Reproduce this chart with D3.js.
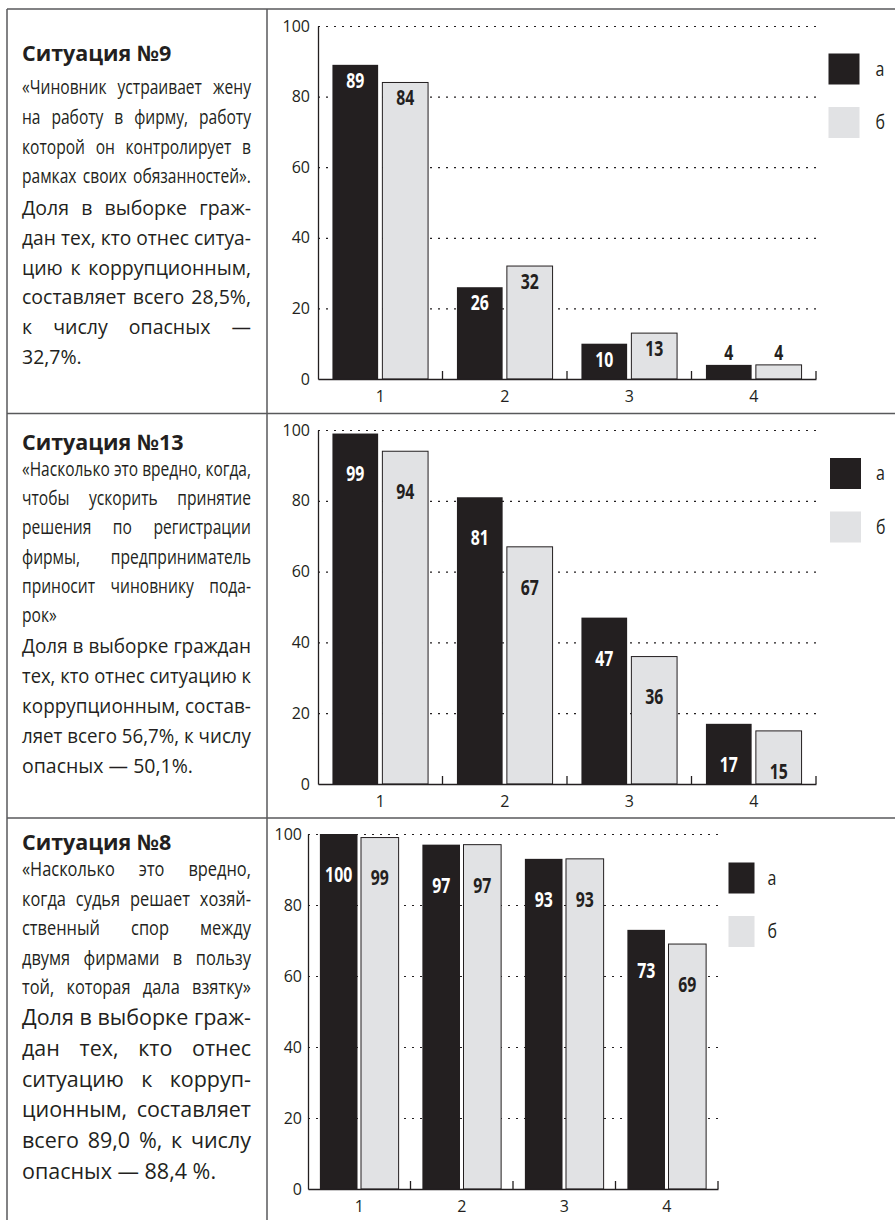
<!DOCTYPE html>
<html>
<head>
<meta charset="utf-8">
<script src="https://cdn.jsdelivr.net/npm/d3@7"></script>
<style>
  body { margin: 0; background: #fff; }
</style>
</head>
<body>
<svg id="page" width="895" height="1220"></svg>
<script>
// data
var categories = ["1", "2", "3", "4"];
var seriesNames = ["а", "б"];
var yTicks = [0, 20, 40, 60, 80, 100];

var sit9A = [89, 26, 10, 4];
var sit9B = [84, 32, 13, 4];
var sit13A = [99, 81, 47, 17];
var sit13B = [94, 67, 36, 15];
var sit8A = [100, 97, 93, 73];
var sit8B = [99, 97, 93, 69];

var titles = ["Ситуация №9", "Ситуация №13", "Ситуация №8"];

var quote9 = [
	"«Чиновник устраивает жену",
	"на работу в фирму, работу",
	"которой он контролирует в",
	"рамках своих обязанностей»."
];
var body9 = [
	"Доля в выборке граж-",
	"дан тех, кто отнес ситуа-",
	"цию к коррупционным,",
	"составляет всего 28,5%,",
	"к числу опасных —",
	"32,7%."
];
var quote13 = [
	"«Насколько это вредно, когда,",
	"чтобы ускорить принятие",
	"решения по регистрации",
	"фирмы, предприниматель",
	"приносит чиновнику пода-",
	"рок»"
];
var body13 = [
	"Доля в выборке граждан",
	"тех, кто отнес ситуацию к",
	"коррупционным, состав-",
	"ляет всего 56,7%, к числу",
	"опасных — 50,1%."
];
var quote8 = [
	"«Насколько это вредно,",
	"когда судья решает хозяй-",
	"ственный спор между",
	"двумя фирмами в пользу",
	"той, которая дала взятку»"
];
var body8 = [
	"Доля в выборке граж-",
	"дан тех, кто отнес",
	"ситуацию к корруп-",
	"ционным, составляет",
	"всего 89,0 %, к числу",
	"опасных — 88,4 %."
];

var INK = "#231f20";
var LIGHT = "#e1e2e4";
var RULE = "#58595b";
var SANS = '"Open Sans", "Noto Sans", sans-serif';
var NARROW = 0.8; // сжатие для "узкого" шрифта

var rows = [
	{top: 9, title: titles[0], quote: quote9, body: body9, a: sit9A, b: sit9B,
	 titleY: 61, quoteY: 94, quoteStep: 29.8, bodyY: 215, bodyStep: 29.8, quoteSize: 19.5, bodySize: 19.5,
	 x0: 318, x1: 816, y0: 379, y100: 26, tickPad: 8, labelOff: 15, legX: 828.5, legW: 31, legGap: 16},
	{top: 413.5, title: titles[1], quote: quote13, body: body13, a: sit13A, b: sit13B,
	 titleY: 450, quoteY: 476, quoteStep: 29.2, bodyY: 653, bodyStep: 30, quoteSize: 19.5, bodySize: 19.5,
	 x0: 318, x1: 816, y0: 784, y100: 430, tickPad: 8, labelOff: 40, legX: 830, legW: 31, legGap: 15},
	{top: 818, title: titles[2], quote: quote8, body: body8, a: sit8A, b: sit8B,
	 titleY: 850, quoteY: 876, quoteStep: 29.5, bodyY: 1025, bodyStep: 30.8, quoteSize: 20.5, bodySize: 21.5,
	 x0: 308, x1: 718, y0: 1189, y100: 834, tickPad: 6, labelOff: 40, legX: 728.5, legW: 26, legGap: 13}
];

var svg = d3.select("#page");
svg.append("rect").attr("width", 895).attr("height", 1220).attr("fill", "#fff");

// одна строка текста, с выравниванием по ширине
function drawLine(parent, str, xL, yB, width, size, weight, squeeze, justify){
	var g = parent.append("g");
	var words = str.split(" ");
	var texts = words.map(function(w){
		return g.append("text")
			.attr("font-family", SANS)
			.attr("font-size", size)
			.attr("font-weight", weight)
			.attr("fill", INK)
			.text(w);
	});
	var widths = texts.map(function(t){ return t.node().getComputedTextLength(); });
	var total = d3.sum(widths);
	var space = size * 0.26;
	var natural = total + space * (words.length - 1);
	var k = Math.min(squeeze, width / natural);
	if(justify == "auto"){
		justify = natural * k > width * 0.85;
	}
	var gap = space;
	if(words.length > 1 && justify){
		gap = (width / k - total) / (words.length - 1);
	}
	var cx = 0;
	texts.forEach(function(t, i){
		t.attr("x", cx);
		cx += widths[i] + gap;
	});
	g.attr("transform", "translate(" + xL + "," + yB + ") scale(" + k + ",1)");
}

function drawLeft(r){
	var g = svg.append("g");
	var xL = 22, w = 229;
	drawLine(g, r.title, xL, r.titleY, 400, 21.5, 700, 1, false);
	r.quote.forEach(function(line, i){
		var last = i == r.quote.length - 1;
		drawLine(g, line, xL, r.quoteY + i * r.quoteStep, w, r.quoteSize, 400, NARROW, last ? "auto" : true);
	});
	r.body.forEach(function(line, i){
		var last = i == r.body.length - 1;
		drawLine(g, line, xL, r.bodyY + i * r.bodyStep, w, r.bodySize, 400, 1, last ? "auto" : true);
	});
}

function drawChart(r){
	var x = d3.scaleBand().domain(categories).range([r.x0, r.x1]);
	var xs = d3.scaleBand().domain(seriesNames).range([0, x.bandwidth()])
		.paddingInner(0.085).paddingOuter(0.289);
	var y = d3.scaleLinear().domain([0, 100]).range([r.y0, r.y100]);
	var g = svg.append("g");

	// пунктирная сетка
	g.append("g")
		.attr("transform", "translate(" + r.x0 + ",0)")
		.call(d3.axisLeft(y).tickValues(yTicks.slice(1)).tickSize(-(r.x1 - r.x0)).tickFormat(""))
		.call(function(a){
			a.select(".domain").remove();
			a.selectAll("line")
				.attr("stroke", INK)
				.attr("stroke-width", 1.2)
				.attr("stroke-dasharray", "2,6");
		});

	var bars = [];
	categories.forEach(function(c, i){
		bars.push({cat: c, key: seriesNames[0], v: r.a[i]});
		bars.push({cat: c, key: seriesNames[1], v: r.b[i]});
	});

	g.selectAll("rect.bar").data(bars).enter().append("rect")
		.attr("class", "bar")
		.attr("x", function(d){ return x(d.cat) + xs(d.key); })
		.attr("y", function(d){ return y(d.v); })
		.attr("width", xs.bandwidth())
		.attr("height", function(d){ return y(0) - y(d.v); })
		.attr("fill", function(d){ return d.key == seriesNames[0] ? INK : LIGHT; })
		.attr("stroke", function(d){ return d.key == seriesNames[0] ? "none" : INK; })
		.attr("stroke-width", 1);

	// подписи значений (узкий жирный)
	g.selectAll("text.val").data(bars).enter().append("text")
		.attr("class", "val")
		.attr("transform", function(d){
			var h = y(0) - y(d.v);
			var cx = x(d.cat) + xs(d.key) + xs.bandwidth() / 2;
			var cy = h < 25 ? y(d.v) - 13 : y(d.v) + r.labelOff;
			return "translate(" + cx + "," + cy + ") scale(0.72,1)";
		})
		.attr("dy", "0.36em")
		.attr("text-anchor", "middle")
		.attr("font-family", SANS)
		.attr("font-weight", 700)
		.attr("font-size", 22)
		.attr("fill", function(d){
			var h = y(0) - y(d.v);
			return (d.key == seriesNames[0] && h >= 25) ? "#fff" : INK;
		})
		.text(function(d){ return d.v; });

	// оси
	g.append("g")
		.attr("transform", "translate(" + r.x0 + ",0)")
		.call(d3.axisLeft(y).tickValues(yTicks).tickSize(0).tickSizeOuter(0).tickPadding(r.tickPad))
		.attr("font-family", SANS)
		.attr("font-size", 16)
		.call(function(a){
			a.select(".domain").attr("stroke", INK).attr("stroke-width", 1.3);
			a.selectAll("text").attr("fill", INK);
		});

	g.append("g")
		.attr("transform", "translate(0," + r.y0 + ")")
		.call(d3.axisBottom(x).tickSize(0).tickSizeOuter(0).tickPadding(12))
		.attr("font-family", SANS)
		.attr("font-size", 16)
		.call(function(a){
			a.select(".domain").attr("stroke", INK).attr("stroke-width", 1.3);
			a.selectAll("text").attr("fill", INK);
		});

	var edges = categories.slice(1).map(function(c){ return x(c); }).concat([r.x1]);
	g.selectAll("line.edge").data(edges).enter().append("line")
		.attr("class", "edge")
		.attr("x1", function(d){ return d; })
		.attr("x2", function(d){ return d; })
		.attr("y1", r.y0)
		.attr("y2", r.y0 - 8)
		.attr("stroke", INK)
		.attr("stroke-width", 1.3);

	// легенда
	var leg = g.selectAll("g.leg").data(seriesNames).enter().append("g")
		.attr("class", "leg")
		.attr("transform", function(d, i){ return "translate(" + r.legX + "," + (r.top + 44.5 + i * 53.5) + ")"; });
	leg.append("rect")
		.attr("width", r.legW)
		.attr("height", 31)
		.attr("fill", function(d, i){ return i == 0 ? INK : LIGHT; });
	leg.append("text")
		.attr("transform", "translate(" + (r.legW + r.legGap) + ",22) scale(0.8,1)")
		.attr("font-family", SANS)
		.attr("font-size", 20)
		.attr("fill", INK)
		.text(function(d){ return d; });
}

// рамка таблицы
rows.forEach(function(r){
	svg.append("line")
		.attr("x1", 7).attr("x2", 895)
		.attr("y1", r.top).attr("y2", r.top)
		.attr("stroke", RULE).attr("stroke-width", 1.5);
});
[7, 267].forEach(function(xv){
	svg.append("line")
		.attr("x1", xv).attr("x2", xv)
		.attr("y1", rows[0].top).attr("y2", 1220)
		.attr("stroke", RULE).attr("stroke-width", 1.5);
});

rows.forEach(function(r){
	drawLeft(r);
	drawChart(r);
});
</script>
</body>
</html>
